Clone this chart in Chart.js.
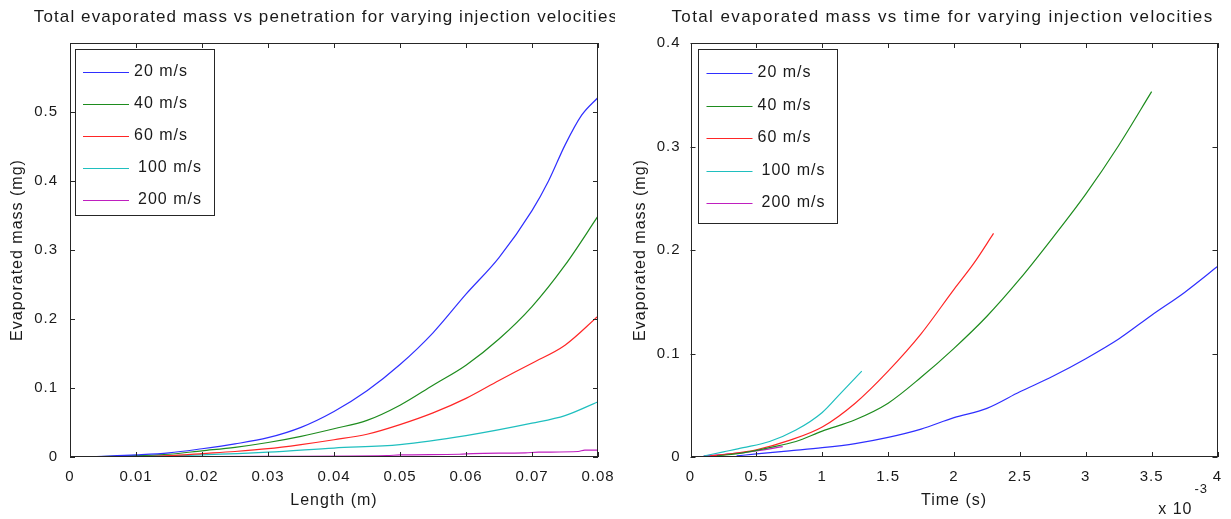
<!DOCTYPE html>
<html>
<head>
<meta charset="utf-8">
<script src="https://cdn.jsdelivr.net/npm/chart.js@4.4.0/dist/chart.umd.min.js"></script>
<style>
  body { margin: 0; background: #fff; }
  .panel { position: absolute; top: 0; height: 519px; }
  #left { left: 0; width: 615px; }
  #right { left: 615px; width: 616px; }
</style>
</head>
<body>
<div class="panel" id="left"><canvas id="penetration"></canvas></div>
<div class="panel" id="right"><canvas id="time"></canvas></div>
<script>
// injection velocities
const labels = ["20 m/s", "40 m/s", "60 m/s", "100 m/s", "200 m/s"];
const colours = ["#2f2fff", "#1e8c1e", "#ff2626", "#1fbfbf", "#bf1fbf"];

// evaporated mass (mg) vs penetration length (m)
const len20 = [0.002, 0.005, 0.01, 0.015, 0.02, 0.025, 0.03, 0.035, 0.04, 0.045, 0.05, 0.055, 0.06, 0.065, 0.07, 0.0725, 0.075, 0.0775, 0.08];
const massLen20 = [0, 0.001, 0.003, 0.006, 0.012, 0.019, 0.028, 0.043, 0.066, 0.096, 0.134, 0.180, 0.236, 0.289, 0.357, 0.400, 0.452, 0.495, 0.521];
const len40 = [0.002, 0.01, 0.015, 0.02, 0.025, 0.03, 0.035, 0.04, 0.045, 0.05, 0.055, 0.06, 0.065, 0.07, 0.075, 0.08];
const massLen40 = [0, 0.002, 0.004, 0.009, 0.014, 0.021, 0.030, 0.041, 0.053, 0.075, 0.104, 0.133, 0.171, 0.218, 0.278, 0.349];
const len60 = [0.002, 0.01, 0.015, 0.02, 0.025, 0.03, 0.035, 0.04, 0.045, 0.05, 0.055, 0.06, 0.065, 0.07, 0.075, 0.08];
const massLen60 = [0, 0.001, 0.002, 0.005, 0.008, 0.012, 0.018, 0.025, 0.033, 0.047, 0.064, 0.085, 0.111, 0.136, 0.162, 0.204];
const len100 = [0.002, 0.01, 0.02, 0.03, 0.04, 0.05, 0.06, 0.07, 0.075, 0.08];
const massLen100 = [0, 0.0005, 0.003, 0.007, 0.013, 0.018, 0.031, 0.049, 0.060, 0.080];
const len200 = [0.002, 0.03, 0.048, 0.05, 0.059, 0.061, 0.069, 0.071, 0.077, 0.078, 0.08];
const massLen200 = [0, 0.001, 0.002, 0.003, 0.004, 0.005, 0.006, 0.007, 0.008, 0.010, 0.010];

// evaporated mass (mg) vs time (ms)
const t20 = [0.35, 0.5, 0.75, 1.0, 1.25, 1.5, 1.75, 2.0, 2.25, 2.5, 2.75, 3.0, 3.25, 3.5, 3.75, 4.0];
const massT20 = [0.001, 0.003, 0.006, 0.009, 0.013, 0.019, 0.027, 0.038, 0.047, 0.063, 0.078, 0.095, 0.114, 0.137, 0.159, 0.184];
const t40 = [0.2, 0.4, 0.6, 0.8, 1.0, 1.25, 1.5, 1.75, 2.0, 2.25, 2.5, 2.75, 3.0, 3.25, 3.5];
const massT40 = [0.001, 0.004, 0.009, 0.015, 0.025, 0.036, 0.052, 0.077, 0.105, 0.136, 0.172, 0.212, 0.254, 0.301, 0.353];
const t60 = [0.15, 0.3, 0.5, 0.75, 1.0, 1.25, 1.5, 1.75, 2.0, 2.15, 2.3];
const massT60 = [0.001, 0.003, 0.007, 0.016, 0.029, 0.052, 0.083, 0.119, 0.162, 0.187, 0.216];
const t100 = [0.1, 0.25, 0.4, 0.6, 0.8, 1.0, 1.15, 1.3];
const massT100 = [0.001, 0.005, 0.009, 0.015, 0.026, 0.043, 0.063, 0.083];
const t200 = [0.1, 0.3, 0.5, 0.7];
const massT200 = [0.001, 0.003, 0.006, 0.010];

const FONT = "'Liberation Sans', Arial, sans-serif";
const INK = "#1a1a1a";
const SPACING = "1px";

function pts(xs, ys, k) {
  return xs.map((x, i) => ({ x: x * k, y: ys[i] }));
}

function datasets(pairs, k) {
  return pairs.map((p, i) => ({
    label: labels[i],
    data: pts(p[0], p[1], k),
    borderColor: colours[i],
    borderWidth: 1.2,
    pointRadius: 0,
    cubicInterpolationMode: "monotone",
    fill: false
  }));
}

// slightly looser text, set again after every canvas resize
const spacing = {
  id: "spacing",
  beforeUpdate(chart) { chart.ctx.letterSpacing = SPACING; },
  beforeDraw(chart) { chart.ctx.letterSpacing = SPACING; }
};

// box around the axes, ticks pointing inwards on all four sides
const frame = {
  id: "frame",
  afterDatasetsDraw(chart) {
    const { ctx, chartArea: a, scales } = chart;
    const len = 5;
    ctx.save();
    ctx.strokeStyle = "#262626";
    ctx.lineWidth = 1;
    ctx.strokeRect(Math.round(a.left) + 0.5, Math.round(a.top) + 0.5, Math.round(a.width) - 1, Math.round(a.height) - 1);
    ctx.beginPath();
    scales.x.ticks.forEach(t => {
      const px = Math.round(scales.x.getPixelForValue(t.value)) + 0.5;
      ctx.moveTo(px, a.bottom); ctx.lineTo(px, a.bottom - len);
      ctx.moveTo(px, a.top); ctx.lineTo(px, a.top + len);
    });
    scales.y.ticks.forEach(t => {
      const py = Math.round(scales.y.getPixelForValue(t.value)) + 0.5;
      ctx.moveTo(a.left, py); ctx.lineTo(a.left + len, py);
      ctx.moveTo(a.right, py); ctx.lineTo(a.right - len, py);
    });
    ctx.stroke();
    ctx.restore();
  }
};

// title, boxed legend and axis exponent
const decorations = {
  id: "decorations",
  afterDraw(chart, args, o) {
    const { ctx, chartArea: a } = chart;
    ctx.save();
    ctx.letterSpacing = o.titleSpacing;
    ctx.fillStyle = INK;
    ctx.font = "17px " + FONT;
    ctx.textBaseline = "middle";
    ctx.textAlign = "center";
    ctx.fillText(o.title, a.left + o.titleX, 17);

    ctx.letterSpacing = SPACING;
    ctx.font = "16px " + FONT;
    const L = o.legend;
    const bx = Math.round(a.left + L.x) + 0.5, by = Math.round(a.top + L.y) + 0.5;
    ctx.fillStyle = "#fff";
    ctx.fillRect(bx, by, L.w, L.h);
    ctx.strokeStyle = "#262626";
    ctx.lineWidth = 1;
    ctx.strokeRect(bx, by, L.w, L.h);
    ctx.textAlign = "left";
    chart.data.datasets.forEach((d, i) => {
      const y = a.top + L.first + i * L.row;
      ctx.strokeStyle = d.borderColor;
      ctx.lineWidth = 1.2;
      ctx.beginPath();
      ctx.moveTo(a.left + L.line0, Math.round(y) + 0.5);
      ctx.lineTo(a.left + L.line1, Math.round(y) + 0.5);
      ctx.stroke();
      ctx.fillStyle = INK;
      ctx.fillText(d.label, a.left + L.text + (d.label.length > 6 ? 4 : 0), y);
    });

    if (o.exponent) {
      ctx.textAlign = "right";
      ctx.fillText("x 10", a.right - 25, 510);
      ctx.font = "13px " + FONT;
      ctx.textAlign = "left";
      ctx.fillText("-3", a.right - 23, 489);
    }
    ctx.restore();
  }
};

function axes(xTitle, xMax, xStep, xFmt, yMax, yStep, yWidth, yTitlePad, yTickPad) {
  return {
    x: {
      type: "linear", min: 0, max: xMax,
      grid: { display: false, drawTicks: false },
      border: { display: false },
      ticks: { stepSize: xStep, color: INK, padding: 11, maxRotation: 0, font: { family: FONT, size: 15 }, callback: xFmt },
      title: { display: true, text: xTitle, color: INK, font: { family: FONT, size: 16 }, padding: { top: 0, bottom: 9 } },
      afterFit(s) { s.height = 62; s.paddingLeft = 0; s.paddingRight = 0; }
    },
    y: {
      type: "linear", min: 0, max: yMax,
      grid: { display: false, drawTicks: false },
      border: { display: false },
      ticks: {
        stepSize: yStep, color: INK, padding: yTickPad, font: { family: FONT, size: 15 },
        callback: v => v > 0.55 && yMax > 0.5 ? "" : String(Math.round(v * 10) / 10)
      },
      title: { display: true, text: "Evaporated mass (mg)", color: INK, font: { family: FONT, size: 16 }, padding: { top: yTitlePad, bottom: 0 } },
      afterFit(s) { s.width = yWidth; s.paddingTop = 0; s.paddingBottom = 0; }
    }
  };
}

new Chart(document.getElementById("penetration"), {
  type: "line",
  data: {
    datasets: datasets([[len20, massLen20], [len40, massLen40], [len60, massLen60], [len100, massLen100], [len200, massLen200]], 1)
  },
  options: {
    responsive: true,
    maintainAspectRatio: false,
    animation: false,
    layout: { padding: { top: 43, right: 17, left: 0, bottom: 0 } },
    plugins: {
      legend: { display: false },
      tooltip: { enabled: false },
      decorations: {
        title: "Total evaporated mass vs penetration for varying injection velocities",
        titleX: 256,
        titleSpacing: "1.1px",
        legend: { x: 5, y: 6, w: 139, h: 166, first: 29, row: 32, line0: 13, line1: 59, text: 64 }
      }
    },
    scales: axes("Length (m)", 0.08, 0.01, v => String(Math.round(v * 100) / 100), 0.6, 0.1, 70, 8, 12)
  },
  plugins: [spacing, frame, decorations]
});

new Chart(document.getElementById("time"), {
  type: "line",
  data: {
    datasets: datasets([[t20, massT20], [t40, massT40], [t60, massT60], [t100, massT100], [t200, massT200]], 1e-3)
  },
  options: {
    responsive: true,
    maintainAspectRatio: false,
    animation: false,
    layout: { padding: { top: 43, right: 13.5, left: 0, bottom: 0 } },
    plugins: {
      legend: { display: false },
      tooltip: { enabled: false },
      decorations: {
        title: "Total evaporated mass vs time for varying injection velocities",
        titleX: 252,
        titleSpacing: "1.4px",
        exponent: true,
        legend: { x: 7, y: 6, w: 139, h: 174, first: 30, row: 32.5, line0: 16, line1: 62, text: 67 }
      }
    },
    scales: axes("Time (s)", 0.004, 0.0005, v => String(Math.round(v * 1e4) / 10), 0.4, 0.1, 75.5, 16, 10)
  },
  plugins: [spacing, frame, decorations]
});
</script>
</body>
</html>
